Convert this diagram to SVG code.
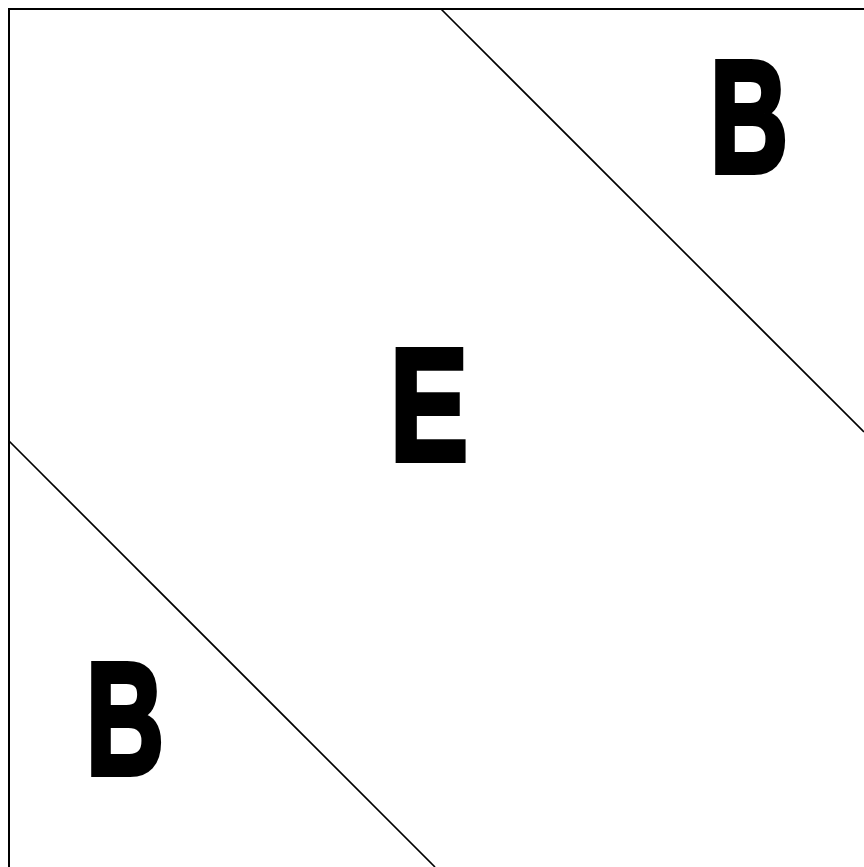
<svg xmlns="http://www.w3.org/2000/svg" width="864" height="867" viewBox="0 0 864 867">
<style>
.lbl{font-family:"Liberation Sans",Arial,sans-serif;font-weight:bold;font-size:160px;fill:#000;stroke:#000;stroke-width:6;stroke-linejoin:miter;text-anchor:middle}
.ln{stroke:#000;stroke-width:1.7;fill:none}
</style>
<rect width="864" height="867" fill="#fff"/>
<g id="frame"><path d="M9,867 V9 H864" fill="none" stroke="#000" stroke-width="2"/></g>
<g id="connectors">
<line class="ln" x1="441" y1="9" x2="864" y2="432"/>
<line class="ln" x1="9" y1="441" x2="435" y2="867"/>
</g>
<g id="region-top-b"><text class="lbl" x="749" y="172" textLength="78" lengthAdjust="spacingAndGlyphs">B</text></g>
<g id="region-e"><text class="lbl" x="429" y="460" textLength="78" lengthAdjust="spacingAndGlyphs">E</text></g>
<g id="region-bottom-b"><text class="lbl" x="125" y="774" textLength="78" lengthAdjust="spacingAndGlyphs">B</text></g>
</svg>
